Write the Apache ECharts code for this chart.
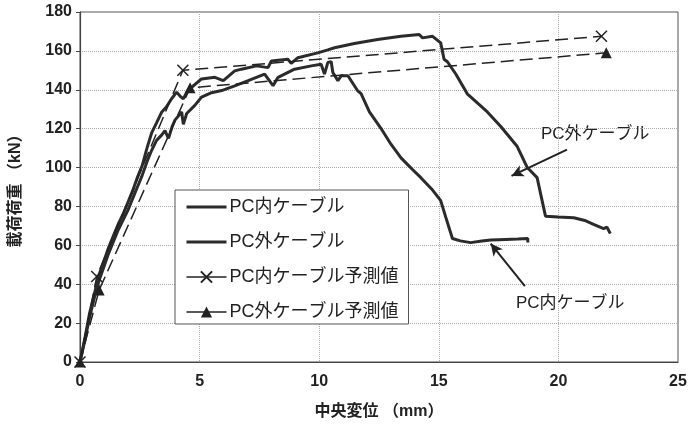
<!DOCTYPE html>
<html>
<head>
<meta charset="utf-8">
<script src="https://cdn.jsdelivr.net/npm/echarts@6/dist/echarts.min.js"></script>
<style>
html,body{margin:0;padding:0;background:#fff;}
#c{width:692px;height:425px;}
</style>
</head>
<body>
<div id="c"></div>
<script>
// ---- data (x: mid-span displacement mm, y: load kN) ----
var seriesNames = ['PC内ケーブル', 'PC外ケーブル', 'PC内ケーブル予測値', 'PC外ケーブル予測値'];

var inCable = [
  [0,0],[0.2,11],[0.4,23],[0.6,33],[0.8,42],[1.0,49],[1.2,56],[1.4,62],[1.6,68],[1.8,73],
  [2.0,78],[2.2,84],[2.4,90],[2.6,96],[2.8,103],[3.0,109],[3.2,114],[3.42,116.8],[3.55,119],
  [3.7,115],[3.85,121],[3.97,124.4],[4.25,128.6],[4.32,122.2],[4.46,127.8],[4.8,132],
  [5.08,136.2],[5.5,138.5],[5.92,139.6],[6.47,142],[7.03,144.7],[7.72,148.1],[8.07,142.1],
  [8.28,146.4],[8.97,150.6],[9.67,152.3],[10.08,153.1],[10.22,148.1],[10.36,154],[10.5,154.5],
  [10.57,148.9],[10.78,144.7],[10.92,147.2],[11.2,147.2],[11.6,139.6],[11.75,138],
  [12.1,128.6],[12.58,120.2],[13.0,112],[13.42,105],[13.9,99],[14.25,94.8],[14.7,89],
  [15.08,83],[15.29,74.5],[15.57,63.5],[15.9,62.3],[16.33,61.4],[16.8,62.2],[17.17,62.7],
  [17.8,63],[18.3,63.2],[18.72,63.5],[18.72,61.4]
];

var outCable = [
  [0,0],[0.2,12],[0.4,25],[0.6,35],[0.8,45],[1.0,52],[1.2,59],[1.4,65],[1.6,71],[1.8,76],
  [2.0,82],[2.2,88],[2.4,95],[2.6,101],[2.8,110],[3.0,118],[3.2,123],[3.42,128.6],[3.6,131],
  [3.83,135.4],[4.04,138.8],[4.2,136.5],[4.32,135.4],[4.5,139.5],[4.67,141.3],[5.08,145.6],
  [5.64,146.4],[5.99,144.7],[6.47,149.7],[6.75,150.6],[7.38,152.3],[7.86,151.4],[8.0,154.8],
  [8.69,155.7],[8.83,153.6],[9.11,156.5],[9.94,159],[10.36,160.5],[10.64,161.6],[11.47,163.8],
  [12.44,165.9],[13.42,167.5],[14.18,168.4],[14.32,166.7],[14.74,167.5],[15.08,164.1],
  [15.22,155.7],[15.36,154.4],[15.71,148.1],[16.19,137.9],[17.03,128.6],[17.6,121],
  [18.28,110.8],[18.7,100],[19.11,94.8],[19.46,75],[20.0,74.6],[20.64,74.2],[21.1,72.8],
  [21.47,70.8],[21.89,68.6],[22.03,69.4],[22.17,66]
];

var inPredict = [[0,0],[0.7,44],[4.3,150],[21.8,167.5]];
var outPredict = [[0,0],[0.8,37],[4.6,141],[22,159]];

// annotation arrows (data coordinates: tail -> head)
var outArrow = [[20.36,109.2],[18.04,95.7]];
var inArrow = [[18.6,39],[17.17,60.9]];

var xTicks = {min:0, max:25, interval:5};
var yTicks = {min:0, max:180, interval:20};

var FONT = '"Liberation Sans","Noto Sans CJK JP",sans-serif';
var crossPath = 'path://M0,0L10,10M10,0L0,10';

var chart = echarts.init(document.getElementById('c'), null, {renderer:'canvas'});
chart.setOption({
  animation:false,
  backgroundColor:'#fff',
  textStyle:{fontFamily:FONT},
  grid:{left:78, right:14, top:12, bottom:58, show:true, borderColor:'#555', borderWidth:1},
  xAxis:{
    type:'value', min:xTicks.min, max:xTicks.max, interval:xTicks.interval,
    name:'中央変位 （mm）', nameLocation:'middle', nameGap:42,
    nameTextStyle:{fontSize:16, fontWeight:'bold', color:'#222', fontFamily:FONT},
    axisLine:{show:true, lineStyle:{color:'#444', width:1.2}},
    axisTick:{show:false},
    axisLabel:{fontSize:16, fontWeight:'bold', color:'#222', margin:12, fontFamily:FONT},
    splitLine:{show:true, lineStyle:{type:'dotted', color:'#aaa', width:1}}
  },
  yAxis:{
    type:'value', min:yTicks.min, max:yTicks.max, interval:yTicks.interval,
    name:'載荷荷重 （kN）', nameLocation:'middle', nameGap:56, nameRotate:90,
    nameTextStyle:{fontSize:16, fontWeight:'bold', color:'#222', fontFamily:FONT},
    axisLine:{show:true, lineStyle:{color:'#444', width:1.2}},
    axisTick:{show:true, inside:false, length:4, lineStyle:{color:'#444'}},
    axisLabel:{fontSize:16, fontWeight:'bold', color:'#222', margin:8, fontFamily:FONT},
    splitLine:{show:true, lineStyle:{type:'dotted', color:'#aaa', width:1}}
  },
  legend:{
    orient:'vertical', left:175, top:190,
    padding:[8,10,3,10],
    itemWidth:40, itemHeight:14, itemGap:17,
    backgroundColor:'#fff', borderColor:'#555', borderWidth:1,
    textStyle:{fontSize:18, color:'#222', fontFamily:FONT, padding:[0,0,0,-2]},
    data:[
      {name:seriesNames[0], itemStyle:{color:'transparent', borderWidth:0, opacity:0}, lineStyle:{color:'#2b2b2b', width:3}},
      {name:seriesNames[1], itemStyle:{color:'transparent', borderWidth:0, opacity:0}, lineStyle:{color:'#2b2b2b', width:3}},
      {name:seriesNames[2], lineStyle:{type:'solid', width:1.3, color:'#222'}},
      {name:seriesNames[3], lineStyle:{type:'solid', width:1.3, color:'#222'}}
    ]
  },
  series:[
    {
      name:seriesNames[0], type:'line', data:inCable, showSymbol:false, symbol:'none',
      lineStyle:{color:'#2b2b2b', width:3}, itemStyle:{color:'#2b2b2b'}, z:3,
      markLine:{
        silent:true, symbol:['none','arrow'], symbolSize:[9,12],
        lineStyle:{color:'#222', width:2, type:'solid'}, label:{show:false},
        data:[[{coord:inArrow[0]},{coord:inArrow[1]}]]
      }
    },
    {
      name:seriesNames[1], type:'line', data:outCable, showSymbol:false, symbol:'none',
      lineStyle:{color:'#2b2b2b', width:3}, itemStyle:{color:'#2b2b2b'}, z:3,
      markLine:{
        silent:true, symbol:['none','arrow'], symbolSize:[9,12],
        lineStyle:{color:'#222', width:2, type:'solid'}, label:{show:false},
        data:[[{coord:outArrow[0]},{coord:outArrow[1]}]]
      }
    },
    {
      name:seriesNames[2], type:'line', data:inPredict, symbol:crossPath, symbolSize:11, showSymbol:true,
      lineStyle:{color:'#222', width:1.5, type:[13,6]},
      itemStyle:{color:'transparent', borderColor:'#222', borderWidth:1.5}, z:4
    },
    {
      name:seriesNames[3], type:'line', data:outPredict, symbol:'triangle', symbolSize:11, showSymbol:true,
      lineStyle:{color:'#222', width:1.5, type:[13,6]},
      itemStyle:{color:'#222'}, z:4
    }
  ],
  graphic:[
    {type:'text', left:541, top:126, style:{text:'PC外ケーブル', font:'17px '+FONT, fill:'#222'}},
    {type:'text', left:516, top:295, style:{text:'PC内ケーブル', font:'17px '+FONT, fill:'#222'}}
  ]
});
</script>
</body>
</html>
